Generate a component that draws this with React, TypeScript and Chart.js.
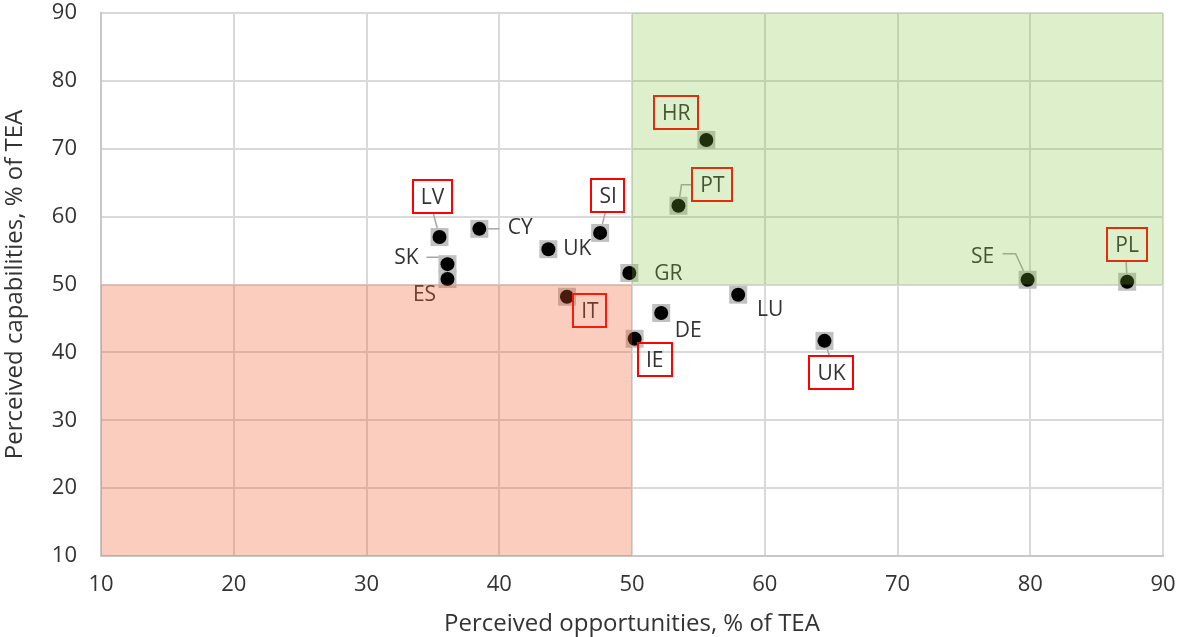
import React, { useEffect, useRef } from "react";
import { Chart, registerables } from "chart.js";

Chart.register(...registerables);

// ---- data ----
const countries = ["LV", "CY", "SK", "ES", "UK", "SI", "GR", "IT", "DE", "IE", "LU", "UK", "HR", "PT", "SE", "PL"];
const opportunities = [35.5, 38.5, 36.1, 36.1, 43.7, 47.6, 49.8, 45.1, 52.2, 50.2, 58.0, 64.5, 55.6, 53.5, 79.8, 87.3];
const capabilities = [57.0, 58.2, 53.0, 50.8, 55.2, 57.6, 51.7, 48.2, 45.8, 42.0, 48.5, 41.7, 71.3, 61.6, 50.7, 50.4];
const boxed = [true, false, false, false, false, true, false, true, false, true, false, true, true, true, false, true];
const axisMin = 10;
const axisMax = 90;
const axisStep = 10;
const threshold = 50;
const xTitle = "Perceived opportunities, % of TEA";
const yTitle = "Perceived capabilities, % of TEA";

// ---- label layout (pixel offsets from the point) ----
const labelOffsets: [number, number][] = [
  [-7, -40], [41, -2], [-41, -7], [-23, 15], [29, -1], [8, -37], [39, 0], [23, 14],
  [27, 17], [20, 21], [32, 14], [7, 32], [-30, -27], [34, -21], [-45, -24], [0, -37],
];
const leaderPaths: [number, number][][] = [
  [[-6, -23]], [[20, 0]], [[-21, -7], [-7, -7]], [], [], [[5, -20]], [], [],
  [], [], [], [[5, 15]], [], [[14, -21], [3, -21]], [[-25, -26], [-12, -26]], [[-1, -20]],
];

const FONT = "'Open Sans', sans-serif";
const TEXT = "#333333";

const annotate = {
  id: "annotate",
  beforeDatasetsDraw(chart: any) {
    const ctx = chart.ctx;
    const meta = chart.getDatasetMeta(1);
    ctx.save();
    ctx.strokeStyle = "#a6a6a6";
    ctx.lineWidth = 1.5;
    meta.data.forEach((el: any, i: number) => {
      const path = leaderPaths[i];
      if (!path || !path.length) return;
      ctx.beginPath();
      path.forEach(([dx, dy], k) => {
        if (k === 0) ctx.moveTo(el.x + dx, el.y + dy);
        else ctx.lineTo(el.x + dx, el.y + dy);
      });
      ctx.lineTo(el.x, el.y);
      ctx.stroke();
    });
    ctx.restore();
  },
  afterDatasetsDraw(chart: any) {
    const ctx = chart.ctx;
    const meta = chart.getDatasetMeta(1);
    ctx.save();
    ctx.font = `21px ${FONT}`;
    ctx.textAlign = "center";
    ctx.textBaseline = "middle";
    meta.data.forEach((el: any, i: number) => {
      const [dx, dy] = labelOffsets[i];
      const cx = el.x + dx;
      const cy = el.y + dy;
      ctx.fillStyle = TEXT;
      ctx.fillText(countries[i], cx, cy + 1);
      if (boxed[i]) {
        const w = ctx.measureText(countries[i]).width + 16;
        const h = 33;
        ctx.strokeStyle = "#ff0000";
        ctx.lineWidth = 2;
        ctx.strokeRect(Math.round(cx - w / 2), Math.round(cy - h / 2), Math.round(w), h);
      }
    });
    const xs = chart.scales.x;
    const ys = chart.scales.y;
    const x0 = xs.getPixelForValue(axisMin);
    const xm = xs.getPixelForValue(threshold);
    const x1 = xs.getPixelForValue(axisMax);
    const y0 = ys.getPixelForValue(axisMin);
    const ym = ys.getPixelForValue(threshold);
    const y1 = ys.getPixelForValue(axisMax);
    ctx.fillStyle = "rgba(124,192,48,0.25)";
    ctx.fillRect(xm, y1, x1 - xm, ym - y1);
    ctx.fillStyle = "rgba(242,88,42,0.3)";
    ctx.fillRect(x0, ym, xm - x0, y0 - ym);
    ctx.restore();
  },
};

export default function App() {
  const ref = useRef<HTMLCanvasElement>(null);
  useEffect(() => {
    if (!ref.current) return;
    const pts = opportunities.map((v, i) => ({ x: v, y: capabilities[i] }));
    const chart = new Chart(ref.current, {
      type: "scatter",
      data: {
        datasets: [
          {
            data: pts,
            order: 2,
            pointStyle: "rect",
            pointRadius: 12.7,
            backgroundColor: "#c0c0c0",
            borderWidth: 0,
          },
          {
            data: pts,
            order: 1,
            pointStyle: "circle",
            pointRadius: 7,
            backgroundColor: "#000000",
            borderWidth: 0,
          },
        ],
      },
      options: {
        responsive: false,
        animation: false,
        devicePixelRatio: 1,
        layout: { padding: { top: 13, right: 14, left: 0, bottom: 0 } },
        plugins: { legend: { display: false }, tooltip: { enabled: false } },
        events: [],
        scales: {
          x: {
            type: "linear",
            min: axisMin,
            max: axisMax,
            afterFit: (s: any) => { s.height = 81; s.paddingLeft = 0; s.paddingRight = 0; },
            ticks: { stepSize: axisStep, color: TEXT, font: { family: FONT, size: 22 }, padding: 16 },
            grid: { color: "#d9d9d9", lineWidth: 2, drawTicks: false },
            border: { color: "#c8c8c8", width: 2 },
            title: { display: true, text: xTitle, color: TEXT, font: { family: FONT, size: 24 }, padding: -2 },
          },
          y: {
            type: "linear",
            min: axisMin,
            max: axisMax,
            afterFit: (s: any) => { s.width = 101; s.paddingTop = 0; s.paddingBottom = 0; },
            ticks: { stepSize: axisStep, color: TEXT, font: { family: FONT, size: 22 }, padding: 24 },
            grid: { color: "#d9d9d9", lineWidth: 2, drawTicks: false },
            border: { color: "#c8c8c8", width: 2 },
            title: { display: true, text: yTitle, color: TEXT, font: { family: FONT, size: 24 }, padding: { top: 1, bottom: 0 } },
          },
        },
      },
      plugins: [annotate],
    } as any);
    return () => chart.destroy();
  }, []);
  return (
    <div style={{ position: "fixed", left: 0, top: 0, width: 1177, height: 637, background: "#fff" }}>
      <canvas ref={ref} width={1177} height={637} />
    </div>
  );
}
